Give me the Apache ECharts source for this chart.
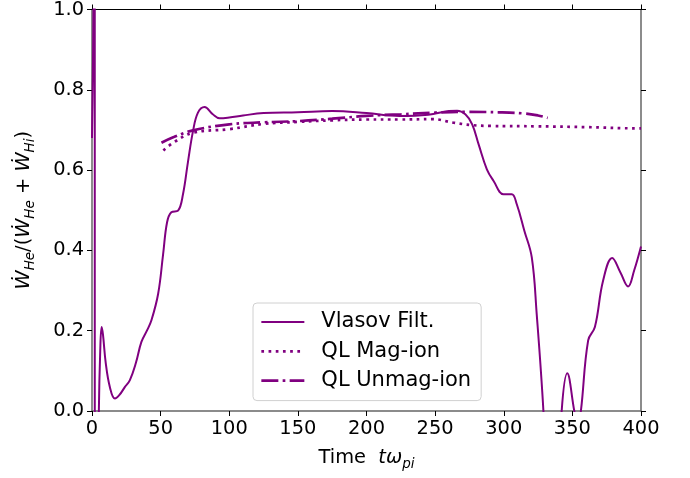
<!DOCTYPE html>
<html>
<head>
<meta charset="utf-8">
<script src="https://cdn.jsdelivr.net/npm/echarts@6/dist/echarts.min.js"></script>
<style>html,body{margin:0;padding:0;background:#fff}#c{width:690px;height:478px}</style>
</head>
<body>
<div id="c"></div>
<script>
const xTicks = [0, 50, 100, 150, 200, 250, 300, 350, 400];
const yTicks = [0.0, 0.2, 0.4, 0.6, 0.8, 1.0];
const seriesNames = ['Vlasov Filt.', 'QL Mag-ion', 'QL Unmag-ion'];

const vlasovT = [0,0.8,1.5,2.0,2.05,3,4,5,6,7,8,10,13,16.7,20,24,27.6,32,36,40,43.3,48.2,51.8,54.7,57.8,62.7,66.3,69.9,73.6,77.2,82,88,93,100,110,125,150,175,200,224,245,260,266,272,277,281.7,287.7,292.6,299.8,305.8,309.5,315,320.4,324,328.9,333,338,342.2,346.3,351.4,353.8,356.2,361.5,366.4,372.4,379,385,390.6,395,400];
const vlasovY = [0.68,0.9,1.3,4,-4,-1.2,-0.4,0.0,0.15,0.209,0.19,0.12,0.06,0.031,0.04,0.06,0.077,0.12,0.172,0.2,0.226,0.292,0.39,0.47,0.495,0.499,0.54,0.62,0.697,0.743,0.757,0.739,0.729,0.731,0.736,0.742,0.744,0.747,0.742,0.735,0.738,0.747,0.748,0.739,0.714,0.664,0.602,0.573,0.54,0.54,0.515,0.449,0.383,0.242,0.0,-0.3,-0.3,0.0,0.094,0.0,-0.04,0.0,0.176,0.209,0.325,0.381,0.345,0.31,0.35,0.41];

const magT = [52,60,73.6,100,125,150,175,200,224,248,263.5,277,290,325,360,398,400];
const magY = [0.649,0.67,0.693,0.702,0.715,0.72,0.724,0.726,0.726,0.727,0.718,0.712,0.71,0.709,0.707,0.704,0.704];

const unmagT = [50.6,60,73.6,100,125,150,175,200,225,250,275,296,315,325,332];
const unmagY = [0.668,0.683,0.699,0.714,0.719,0.722,0.728,0.735,0.739,0.743,0.745,0.744,0.741,0.736,0.730];

const zip = (a, b) => a.map((v, i) => [v, b[i]]);
const color = '#800080';
const FONT = 'DejaVu Sans';
const FS = 19.4;
const LFS = 21;

const styles = [
  {color: color, width: 2, type: 'solid'},
  {color: color, width: 2.7, type: [2.7, 4.5], cap: 'butt'},
  {color: color, width: 2.7, type: [17, 4.3, 2.7, 4.3], cap: 'butt'}
];

const chart = echarts.init(document.getElementById('c'), null, {renderer: 'canvas'});
const baseX = {
  type: 'value', min: xTicks[0], max: xTicks[xTicks.length - 1], interval: 50,
  splitLine: {show: false}
};
const baseY = {
  type: 'value', min: yTicks[0], max: yTicks[yTicks.length - 1], interval: 0.2,
  splitLine: {show: false}
};
chart.setOption({
  animation: false,
  textStyle: {fontFamily: FONT},
  grid: {left: 92, right: 49, top: 8, bottom: 67, containLabel: false},
  xAxis: [
    Object.assign({}, baseX, {
      position: 'bottom',
      name: '{n|Time  }{i|tω}{s|pi}',
      nameLocation: 'middle', nameGap: 34,
      nameTextStyle: {
        rich: {
          n: {fontFamily: FONT, fontSize: FS, color: '#000'},
          i: {fontFamily: FONT, fontSize: FS, fontStyle: 'italic', color: '#000'},
          s: {fontFamily: FONT, fontSize: 13.5, fontStyle: 'italic', color: '#000', verticalAlign: 'bottom', padding: [12, 0, 0, 0]}
        }
      },
      axisLine: {show: true, onZero: false, lineStyle: {color: '#666', width: 1.5}},
      axisTick: {show: true, inside: false, length: 5, lineStyle: {color: '#000', width: 1}},
      axisLabel: {show: true, fontFamily: FONT, fontSize: FS, color: '#000', margin: 8,
        formatter: v => String(v)}
    }),
    Object.assign({}, baseX, {
      position: 'top',
      axisLine: {show: true, onZero: false, lineStyle: {color: '#000', width: 1}},
      axisTick: {show: true, inside: false, length: 5, lineStyle: {color: '#000', width: 1}},
      axisLabel: {show: false}
    })
  ],
  yAxis: [
    Object.assign({}, baseY, {
      position: 'left',
      name: '{w|Ẇ}{s|He}{n|/(}{w|Ẇ}{s|He}{n| + }{w|Ẇ}{s|Hi}{n|)}',
      nameLocation: 'middle', nameGap: 55, nameRotate: 90,
      nameTextStyle: {
        rich: {
          n: {fontFamily: FONT, fontSize: FS, color: '#000'},
          w: {fontFamily: FONT, fontSize: FS, fontStyle: 'italic', color: '#000'},
          s: {fontFamily: FONT, fontSize: 13.5, fontStyle: 'italic', color: '#000', verticalAlign: 'bottom', padding: [12, 0, 0, 0]}
        }
      },
      axisLine: {show: true, onZero: false, lineStyle: {color: '#666', width: 1.5}},
      axisTick: {show: true, inside: false, length: 5, lineStyle: {color: '#000', width: 1}},
      axisLabel: {show: true, fontFamily: FONT, fontSize: FS, color: '#000', margin: 8,
        formatter: v => v.toFixed(1)}
    }),
    Object.assign({}, baseY, {
      position: 'right',
      axisLine: {show: true, onZero: false, lineStyle: {color: '#666', width: 1.5}},
      axisTick: {show: true, inside: false, length: 5, lineStyle: {color: '#000', width: 1}},
      axisLabel: {show: false}
    })
  ],
  legend: {
    left: 253, top: 303, orient: 'vertical',
    padding: [7, 10, 8, 7],
    itemWidth: 43, itemHeight: 14, itemGap: 5.3,
    borderColor: '#d0d0d0', borderWidth: 1, borderRadius: 4,
    backgroundColor: 'rgba(255,255,255,0.85)',
    itemStyle: {opacity: 0, borderWidth: 0},
    textStyle: {fontFamily: FONT, fontSize: LFS, color: '#000', lineHeight: 24, padding: [0, 0, 0, 12]},
    data: seriesNames.map((n, i) => ({name: n, lineStyle: styles[i], itemStyle: {opacity: 0}}))
  },
  series: [
    {
      name: seriesNames[0], type: 'line', data: zip(vlasovT, vlasovY),
      xAxisIndex: 0, yAxisIndex: 0, showSymbol: false, symbol: 'none',
      smooth: 0.4, clip: true,
      lineStyle: styles[0], itemStyle: {color: color}, z: 3
    },
    {
      name: seriesNames[1], type: 'line', data: zip(magT, magY),
      xAxisIndex: 0, yAxisIndex: 0, showSymbol: false, symbol: 'none',
      smooth: 0.4, clip: true,
      lineStyle: styles[1], itemStyle: {color: color}, z: 2
    },
    {
      name: seriesNames[2], type: 'line', data: zip(unmagT, unmagY),
      xAxisIndex: 0, yAxisIndex: 0, showSymbol: false, symbol: 'none',
      smooth: 0.4, clip: true,
      lineStyle: styles[2], itemStyle: {color: color}, z: 2
    }
  ]
});
</script>
</body>
</html>
